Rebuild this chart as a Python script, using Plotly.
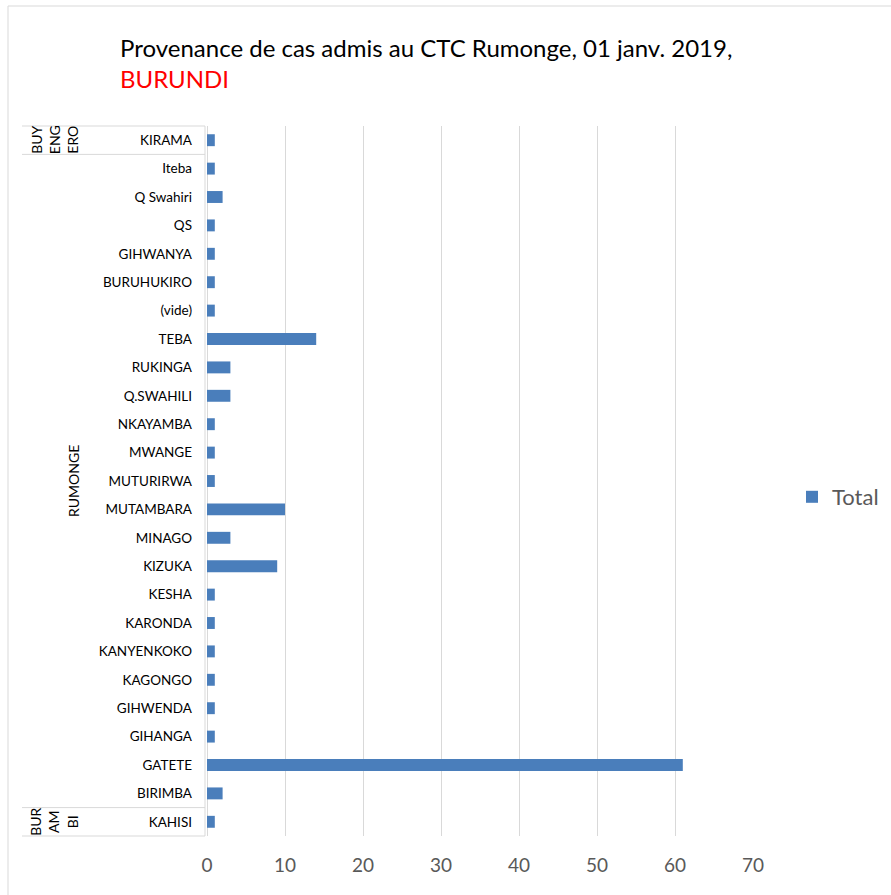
import plotly.graph_objects as go

categories = ["KAHISI", "BIRIMBA", "GATETE", "GIHANGA", "GIHWENDA", "KAGONGO",
              "KANYENKOKO", "KARONDA", "KESHA", "KIZUKA", "MINAGO", "MUTAMBARA",
              "MUTURIRWA", "MWANGE", "NKAYAMBA", "Q.SWAHILI", "RUKINGA", "TEBA",
              "(vide)", "BURUHUKIRO", "GIHWANYA", "QS", "Q Swahiri", "Iteba", "KIRAMA"]
values = [1, 2, 61, 1, 1, 1, 1, 1, 1, 9, 3, 10, 1, 1, 1, 3, 3, 14, 1, 1, 1, 1, 2, 1, 1]
groups = [("BUR<br>AM<br>BI", 0, 0), ("RUMONGE", 1, 23), ("BUY<br>ENG<br>ERO", 24, 24)]
x_ticks = [0, 10, 20, 30, 40, 50, 60, 70]

W, H = 891, 895
L, R, T, B = 207, 753, 126, 836
FONT = "Lato, 'Open Sans', sans-serif"

def px(x):
    return (x - L) / (R - L)

def py(y):
    return (B - y) / (B - T)

fig = go.Figure()
fig.add_trace(go.Bar(
    x=values, y=categories, orientation="h", name="Total",
    marker=dict(color="#4a7ebb", line=dict(width=0)),
    showlegend=True,
))

shapes = []
shapes.append(dict(type="rect", xref="paper", yref="paper",
                   x0=px(8), x1=px(898), y0=py(900), y1=py(6),
                   line=dict(color="#d9d9d9", width=1)))
n = len(categories)
row_h = (B - T) / n
for y in [T, T + row_h, B - row_h, B]:
    shapes.append(dict(type="line", xref="paper", yref="paper",
                       x0=px(22), x1=px(205), y0=py(y), y1=py(y),
                       line=dict(color="#d9d9d9", width=1)))
shapes.append(dict(type="line", xref="paper", yref="paper",
                   x0=px(205), x1=px(205), y0=py(T), y1=py(B),
                   line=dict(color="#d9d9d9", width=1)))

annotations = []
for label, i0, i1 in groups:
    yc = (i0 + i1) / 2
    xpos = 73 if label == "RUMONGE" else 54
    annotations.append(dict(text=label, x=px(xpos), xref="paper", y=yc, yref="y",
                            textangle=-90, showarrow=False,
                            font=dict(family=FONT, size=14, color="#000000"),
                            xanchor="center", yanchor="middle"))

fig.update_layout(
    width=W, height=H,
    margin=dict(l=L, r=W - R, t=T, b=H - B, autoexpand=False),
    paper_bgcolor="white", plot_bgcolor="white",
    title=dict(text="Provenance de cas admis au CTC Rumonge, 01 janv. 2019,<br><span style='color:#ff0000'>BURUNDI</span>",
               x=120 / W, xanchor="left", xref="container",
               y=1 - 57 / H, yanchor="top", yref="container",
               font=dict(family=FONT, size=24, color="#000000")),
    xaxis=dict(range=[0, 70], tickvals=x_ticks, showgrid=True, gridcolor="#d9d9d9",
               gridwidth=1, zeroline=True, zerolinecolor="#d9d9d9", zerolinewidth=1,
               tickfont=dict(family=FONT, size=19, color="#595959"),
               ticks="", showline=False, ticklabelstandoff=16, fixedrange=True,
               automargin=False),
    yaxis=dict(categoryorder="array", categoryarray=categories, type="category",
               tickfont=dict(family=FONT, size=13.5, color="#000000"),
               ticks="", showline=False, showgrid=False, ticklabelstandoff=14,
               range=[-0.5, n - 0.5], fixedrange=True, automargin=False),
    bargap=0.58,
    legend=dict(x=px(792), xref="paper", y=py(497), yanchor="middle", xanchor="left",
                font=dict(family=FONT, size=22, color="#595959"),
                bgcolor="rgba(0,0,0,0)", itemwidth=30),
    shapes=shapes,
    annotations=annotations,
)

fig.write_html("out.html", config={"displayModeBar": False},
               post_script="document.body.style.margin='0';document.body.style.overflow='hidden';")
